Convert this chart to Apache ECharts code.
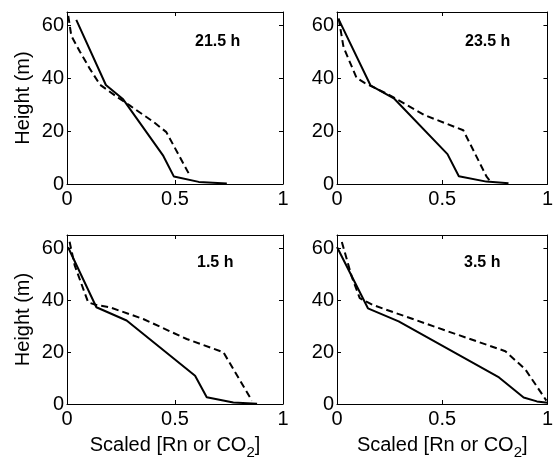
<!DOCTYPE html>
<html><head><meta charset="utf-8">
<script src="https://cdn.jsdelivr.net/npm/echarts@6/dist/echarts.min.js"></script>
<style>html,body{margin:0;padding:0;background:#fff}#c{width:556px;height:461px}</style>
</head><body><div id="c"></div>
<script>
// ---- data ----
const panelTitles = ['21.5 h', '23.5 h', '1.5 h', '3.5 h'];
const xTickValues = [0, 0.5, 1];
const yTickValues = [0, 20, 40, 60];
const xName = 'Scaled [Rn or CO{sub|2}]';
const yName = 'Height (m)';

// 21.5 h
const solidX_215 = [0.043, 0.18, 0.26, 0.446, 0.495, 0.61, 0.74];
const solidH_215 = [62, 37.4, 32, 10.6, 2.8, 0.8, 0.2];
const dashX_215  = [0.006, 0.02, 0.06, 0.106, 0.153, 0.23, 0.29, 0.40, 0.46, 0.57];
const dashH_215  = [63.5, 56, 50, 43.5, 37.5, 33, 29.7, 23.5, 19.6, 3];
// 23.5 h
const solidX_235 = [0.008, 0.159, 0.27, 0.525, 0.579, 0.71, 0.815];
const solidH_235 = [62.2, 37.3, 32.4, 11.3, 2.9, 0.9, 0.3];
const dashX_235  = [0.008, 0.031, 0.093, 0.131, 0.247, 0.417, 0.60, 0.71, 0.733];
const dashH_235  = [62.6, 51.7, 40.1, 38.2, 33.7, 26, 20.3, 2.9, 0.6];
// 1.5 h
const solidX_15 = [0.005, 0.136, 0.276, 0.593, 0.647, 0.77, 0.88];
const solidH_15 = [60.3, 37.2, 32.1, 10.9, 2.6, 0.6, 0.1];
const dashX_15  = [0.012, 0.036, 0.098, 0.136, 0.198, 0.353, 0.554, 0.724, 0.856];
const dashH_15  = [62.4, 53.2, 39.1, 38.1, 37.2, 32.7, 25, 19.9, 1.3];
// 3.5 h
const solidX_35 = [0, 0.147, 0.293, 0.77, 0.887, 0.95, 1.0];
const solidH_35 = [60.4, 36.8, 31.8, 10.2, 2.5, 1.0, 0.5];
const dashX_35  = [0.023, 0.07, 0.108, 0.17, 0.525, 0.80, 0.895, 0.995];
const dashH_35  = [62.3, 49, 40.7, 38.1, 28, 20.3, 13.3, 1.3];

// ---- layout ----
const FONT = '"Liberation Sans", Arial, Helvetica, sans-serif';
const grids = [
  {left: 67,  top: 12,  width: 216, height: 172},
  {left: 337, top: 12,  width: 215, height: 172},
  {left: 67,  top: 235, width: 216, height: 169},
  {left: 337, top: 235, width: 215, height: 169}
];
const titlePos = [[195, 34], [465, 34], [197, 255], [464, 255]];
const panels = [
  [solidX_215, solidH_215, dashX_215, dashH_215],
  [solidX_235, solidH_235, dashX_235, dashH_235],
  [solidX_15, solidH_15, dashX_15, dashH_15],
  [solidX_35, solidH_35, dashX_35, dashH_35]
];
const pair = (xs, hs) => xs.map((x, i) => [x, hs[i]]);

const X_MAX = xTickValues[xTickValues.length - 1];
const Y_MAX = 65;
const lineStyleAxis = {color: '#000', width: 1};

const xAxes = [], yAxes = [], series = [], titles = [];
grids.forEach((g, i) => {
  const bottomRow = i >= 2, leftCol = i % 2 === 0;
  xAxes.push({
    type: 'value', gridIndex: i, min: 0, max: X_MAX, interval: 0.5, position: 'bottom',
    axisLine: {show: true, onZero: false, lineStyle: lineStyleAxis},
    axisTick: {show: true, inside: true, length: 4, lineStyle: lineStyleAxis},
    axisLabel: {show: true, fontSize: 20, color: '#000', fontFamily: FONT, margin: 5},
    splitLine: {show: false},
    name: bottomRow ? xName : '', nameLocation: 'middle', nameGap: 26,
    nameTextStyle: {fontSize: 20, color: '#000', fontFamily: FONT,
      rich: {sub: {fontSize: 15, color: '#000', fontFamily: FONT, padding: [15, 0, 0, 0], verticalAlign: 'bottom'}}}
  });
  xAxes.push({
    type: 'value', gridIndex: i, min: 0, max: X_MAX, interval: 0.5, position: 'top',
    axisLine: {show: true, onZero: false, lineStyle: lineStyleAxis},
    axisTick: {show: true, inside: true, length: 4, lineStyle: lineStyleAxis},
    axisLabel: {show: false}, splitLine: {show: false}
  });
  yAxes.push({
    type: 'value', gridIndex: i, min: 0, max: Y_MAX, interval: 20, position: 'left',
    axisLine: {show: true, onZero: false, lineStyle: lineStyleAxis},
    axisTick: {show: true, inside: true, length: 4, lineStyle: lineStyleAxis},
    axisLabel: {show: true, fontSize: 20, color: '#000', fontFamily: FONT, margin: 3,
      formatter: v => (yTickValues.indexOf(v) >= 0 ? String(v) : '')},
    splitLine: {show: false},
    name: leftCol ? yName : '', nameLocation: 'middle', nameGap: 34,
    nameTextStyle: {fontSize: 20, color: '#000', fontFamily: FONT}
  });
  yAxes.push({
    type: 'value', gridIndex: i, min: 0, max: Y_MAX, interval: 20, position: 'right',
    axisLine: {show: true, onZero: false, lineStyle: lineStyleAxis},
    axisTick: {show: true, inside: true, length: 4, lineStyle: lineStyleAxis},
    axisLabel: {show: false}, splitLine: {show: false}
  });
  const [sx, sh, dx, dh] = panels[i];
  series.push({
    type: 'line', xAxisIndex: 2 * i, yAxisIndex: 2 * i, data: pair(sx, sh),
    showSymbol: false, symbol: 'none', silent: true, animation: false,
    lineStyle: {color: '#000', width: 2}
  });
  series.push({
    type: 'line', xAxisIndex: 2 * i, yAxisIndex: 2 * i, data: pair(dx, dh),
    showSymbol: false, symbol: 'none', silent: true, animation: false,
    lineStyle: {color: '#000', width: 2, type: [7, 4]}
  });
  titles.push({
    text: panelTitles[i], left: titlePos[i][0], top: titlePos[i][1], padding: 0,
    textStyle: {fontSize: 16, fontWeight: 'bold', color: '#000', fontFamily: FONT}
  });
});

const chart = echarts.init(document.getElementById('c'), null, {renderer: 'canvas'});
chart.setOption({
  backgroundColor: '#fff',
  animation: false,
  title: titles,
  grid: grids,
  xAxis: xAxes,
  yAxis: yAxes,
  series: series
});
</script>
</body></html>
